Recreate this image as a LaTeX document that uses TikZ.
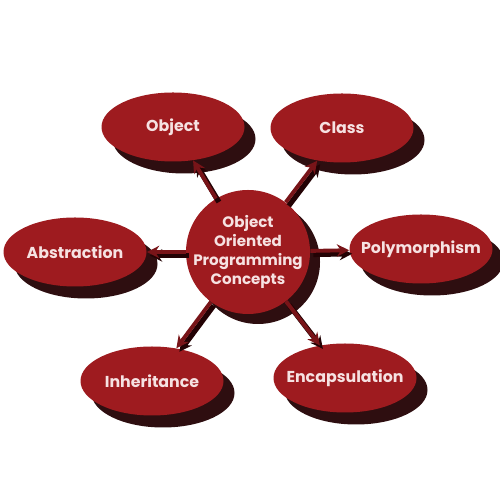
\documentclass[tikz,border=0pt]{standalone}
\usepackage{fontspec}
\setmainfont{Poppins}
\usepackage{tikz}
\usetikzlibrary{arrows.meta, shapes.geometric, shadows}
\usepackage{xcolor}
\definecolor{oopred}{RGB}{158,27,31}
\definecolor{oopdark}{RGB}{120,20,24}
\definecolor{oopshade}{RGB}{35,2,4}
\definecolor{ooptext}{RGB}{246,226,226}

\begin{document}
\begin{tikzpicture}[
        concept/.style={
            ellipse,
            fill=oopred,
            minimum width=2.86cm,
            minimum height=1.38cm,
            inner xsep=-9pt,
            inner ysep=-2pt,
            text=ooptext,
            font=\bfseries\fontsize{9}{11}\selectfont,
            drop shadow={fill=oopshade, opacity=0.95, shadow xshift=0.22cm, shadow yshift=-0.24cm}
        },
        hub/.style={
            circle,
            fill=oopred,
            minimum size=2.48cm,
            inner sep=-12pt,
            align=center,
            text=ooptext,
            font=\bfseries\fontsize{8.6}{10.8}\selectfont,
            drop shadow={fill=oopshade, opacity=0.95, shadow xshift=0.2cm, shadow yshift=-0.2cm}
        },
        arrow/.style={-{Stealth[length=7pt, width=7pt]}, oopdark, line width=2.2pt},
        arrowshade/.style={-{Stealth[length=7pt, width=7pt]}, oopshade, line width=3pt}
    ]

    \fill[white] (0,0) rectangle (10,10);
    \useasboundingbox (0,0) rectangle (10,10);

    % --- NODES ---
    \node (core) [hub] at (4.96,4.96) {Object\\Oriented\\Programming\\Concepts};

    \node (obj)   [concept] at (3.46,7.46) {Object};
    \node (cls)   [concept] at (6.84,7.44) {Class};
    \node (abstr) [concept] at (1.50,4.96) {Abstraction};
    \node (poly)  [concept] at (8.42,5.02) {Polymorphism};
    \node (inher) [concept] at (3.04,2.38) {Inheritance};
    \node (encap) [concept] at (6.90,2.44) {Encapsulation};

    % --- ARROWS ---
    \begin{scope}[transform canvas={shift={(0.06,-0.07)}}]
        \foreach \target in {obj, cls, abstr, poly, inher, encap}
            \draw [arrowshade] (core) -- (\target);
    \end{scope}
    \foreach \target in {obj, cls, abstr, poly, inher, encap}
        \draw [arrow] (core) -- (\target);

\end{tikzpicture}
\end{document}
